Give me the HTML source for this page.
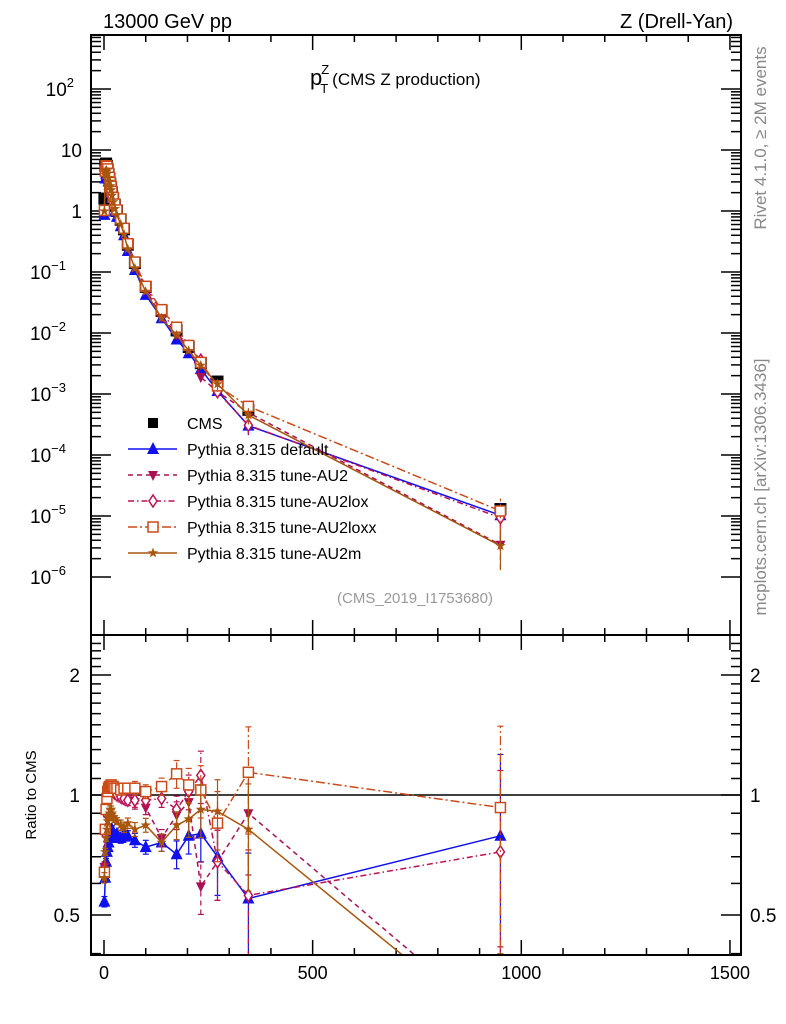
<!DOCTYPE html>
<html><head><meta charset="utf-8"><style>
html,body{margin:0;padding:0;background:#fff;width:786px;height:1024px;overflow:hidden;}
svg{display:block;font-family:"Liberation Sans",sans-serif;}
</style></head><body>
<svg id="c" width="786" height="1024" viewBox="0 0 786 1024" xmlns="http://www.w3.org/2000/svg">
<defs>
<clipPath id="mainClip"><rect x="91" y="35" width="650" height="600"/></clipPath>
<clipPath id="ratioClip"><rect x="91" y="635" width="650" height="320"/></clipPath>
</defs>
<rect x="0" y="0" width="786" height="1024" fill="#fff"/>
<text x="103" y="28" font-size="20">13000 GeV pp</text>
<text x="733" y="28" font-size="20" text-anchor="end">Z (Drell-Yan)</text>
<text x="310" y="85" font-size="17"><tspan font-size="22">p</tspan><tspan dx="-1" dy="-11" font-size="13">Z</tspan><tspan dx="-9" dy="19" font-size="13">T</tspan><tspan dx="4" dy="-8">(CMS Z production)</tspan></text>
<text transform="translate(766,138) rotate(-90)" font-size="17" fill="#888" text-anchor="middle">Rivet 4.1.0, ≥ 2M events</text>
<text transform="translate(766,487) rotate(-90)" font-size="17" fill="#888" text-anchor="middle">mcplots.cern.ch [arXiv:1306.3436]</text>
<text x="493" y="603" font-size="15" fill="#999" text-anchor="end">(CMS_2019_I1753680)</text>
<text transform="translate(36,795) rotate(-90)" font-size="15" text-anchor="middle">Ratio to CMS</text>
<g id="axes"></g>
<g id="mainPlot" clip-path="url(#mainClip)"></g>
<g id="ratioPlot" clip-path="url(#ratioClip)"></g>
<g id="legend"></g>
<rect x="91" y="35" width="650" height="600" fill="none" stroke="#000" stroke-width="2"/>
<rect x="91" y="635" width="650" height="320" fill="none" stroke="#000" stroke-width="2"/>
</svg>
<script>
const xVals = [1,3,5,7,9,11,13,15,17,19,22,26,31,40,48,57,74,100,138,174,203,232,272,346,950];
const cmsVals = [1.6,5.5,6.0,5.5,4.8,4.0,3.4,2.8,2.4,2.0,1.6,1.25,1.0,0.72,0.5,0.28,0.14,0.057,0.023,0.011,0.0059,0.0032,0.0016,0.00055,0.000013];
const ratioDefault = [0.54,0.62,0.68,0.72,0.74,0.76,0.78,0.80,0.82,0.82,0.80,0.78,0.80,0.78,0.80,0.79,0.77,0.74,0.76,0.71,0.79,0.80,0.70,0.55,0.79];
const ratioAU2 = [0.66,0.80,0.90,0.95,1.00,1.02,1.03,1.04,1.04,1.03,1.02,1.02,1.01,1.00,0.98,0.97,0.96,0.93,0.78,0.89,0.96,0.59,0.68,0.90,0.26];
const ratioAU2lox = [0.65,0.80,0.90,0.96,1.00,1.02,1.03,1.04,1.04,1.03,1.02,1.01,1.00,0.99,0.98,0.97,0.97,0.97,0.98,0.92,1.02,1.12,0.68,0.56,0.72];
const ratioAU2loxx = [0.64,0.82,0.92,0.98,1.02,1.04,1.05,1.05,1.06,1.05,1.05,1.04,1.04,1.03,1.04,1.04,1.04,1.02,1.05,1.13,1.06,1.03,0.85,1.14,0.93];
const ratioAU2m = [0.62,0.72,0.78,0.82,0.86,0.88,0.90,0.92,0.92,0.90,0.88,0.87,0.86,0.84,0.83,0.85,0.82,0.84,0.76,0.84,0.87,0.92,0.91,0.82,0.25];
const relErr = [0.03,0.02,0.02,0.02,0.02,0.02,0.02,0.02,0.02,0.02,0.02,0.02,0.02,0.03,0.03,0.03,0.04,0.04,0.05,0.08,0.1,0.15,0.2,0.3,0.6];
const xTicks = [0,500,1000,1500];
const mainDecades = [-6,-5,-4,-3,-2,-1,0,1,2];
const ratioTicks = [0.5,1,2];

const NS="http://www.w3.org/2000/svg";
const sx = v => 104 + v*0.4173;
const sy = v => 211 - 61*Math.log10(v);
const ry = r => 795 - 398.6*Math.log10(r);
function mk(tag, attrs, parent){const e=document.createElementNS(NS,tag);for(const k in attrs)e.setAttribute(k,attrs[k]);parent.appendChild(e);return e;}
const axes=document.getElementById('axes'), mainG=document.getElementById('mainPlot'), ratioG=document.getElementById('ratioPlot'), legG=document.getElementById('legend');

for(let v=0; v<=1500; v+=100){
  const major = v%500===0, X=sx(v), L=major?15:7;
  [[35,1],[635,-1],[635,1],[955,-1]].forEach(([y0,d])=>{
    const t=mk('line',{x1:X,x2:X,y1:y0,y2:y0+d*L,stroke:'#000','stroke-width':1.5},axes);
    
    
  });
}
xTicks.forEach(v=>{
  const t=mk('text',{x:sx(v),y:979,'font-size':18,'text-anchor':'middle'},axes);
  t.textContent=v;
  
  
});
mainDecades.forEach(d=>{
  for(let m=1;m<10;m++){
    const Y=sy(m*Math.pow(10,d));
    if(Y<35||Y>635) continue;
    const L=m===1?20:10;
    const a=mk('line',{x1:91,x2:91+L,y1:Y,y2:Y,stroke:'#000','stroke-width':1.5},axes);
    
    
    const b=mk('line',{x1:741,x2:741-L,y1:Y,y2:Y,stroke:'#000','stroke-width':1.5},axes);
    
    
  }
  const t=mk('text',{x:82,y:sy(Math.pow(10,d))+7,'font-size':19,'text-anchor':'end'},axes);
  
  
  if(d===0) t.textContent='1'; else if(d===1) t.textContent='10';
  else { t.textContent='10'; const s=mk('tspan',{dy:-9,'font-size':13},t); s.textContent=String(d).replace('-','−'); t.setAttribute('x',82-(d<0?16:8)); }
});
for(let r=0.4;r<=2.5;r+=0.1){
  const rr=Math.round(r*10)/10, Y=ry(rr);
  if(Y<635||Y>955) continue;
  const major=[0.5,1,2].includes(rr), L=major?20:10;
  const a=mk('line',{x1:91,x2:91+L,y1:Y,y2:Y,stroke:'#000','stroke-width':1.5},axes);
  
  
  const b=mk('line',{x1:741,x2:741-L,y1:Y,y2:Y,stroke:'#000','stroke-width':1.5},axes);
  
  
}
ratioTicks.forEach(r=>{
  const a=mk('text',{x:80,y:ry(r)+7,'font-size':19,'text-anchor':'end'},axes); a.textContent=r;
  
  
  const b=mk('text',{x:750,y:ry(r)+7,'font-size':19},axes); b.textContent=r;
  
  
});
const ref=mk('line',{x1:91,x2:741,y1:ry(1),y2:ry(1),stroke:'#000','stroke-width':1.5},ratioG);



function marker(shape,x,y,col,parent,sz){
  sz=sz||6; let e;
  if(shape==='square') e=mk('rect',{x:x-sz,y:y-sz,width:2*sz,height:2*sz,fill:col},parent);
  else if(shape==='osquare') e=mk('rect',{x:x-sz+1,y:y-sz+1,width:2*sz-2,height:2*sz-2,fill:'#fff',stroke:col,'stroke-width':1.5},parent);
  else if(shape==='up') e=mk('polygon',{points:`${x},${y-sz-1} ${x-sz},${y+sz-1} ${x+sz},${y+sz-1}`,fill:col},parent);
  else if(shape==='down') e=mk('polygon',{points:`${x},${y+sz} ${x-sz+1},${y-sz+2} ${x+sz-1},${y-sz+2}`,fill:col},parent);
  else if(shape==='diamond') e=mk('polygon',{points:`${x},${y-sz} ${x-4},${y} ${x},${y+sz} ${x+4},${y}`,fill:'#fff',stroke:col,'stroke-width':1.5},parent);
  else { let p=[]; for(let i=0;i<10;i++){const a=-Math.PI/2+i*Math.PI/5, r=i%2?2.2:5.5; p.push((x+r*Math.cos(a)).toFixed(1)+','+(y+r*Math.sin(a)).toFixed(1));} e=mk('polygon',{points:p.join(' '),fill:col},parent); }
  return e;
}
const series=[
 {name:'default',label:'Pythia 8.315 default',ratio:ratioDefault,col:'#1010ee',dash:'',shape:'up'},
 {name:'tune-au2',label:'Pythia 8.315 tune-AU2',ratio:ratioAU2,col:'#aa1155',dash:'5,4',shape:'down'},
 {name:'tune-au2lox',label:'Pythia 8.315 tune-AU2lox',ratio:ratioAU2lox,col:'#bb1155',dash:'6,3,1.5,3',shape:'diamond'},
 {name:'tune-au2loxx',label:'Pythia 8.315 tune-AU2loxx',ratio:ratioAU2loxx,col:'#cc4a1a',dash:'9,3,2,3',shape:'osquare'},
 {name:'tune-au2m',label:'Pythia 8.315 tune-AU2m',ratio:ratioAU2m,col:'#a8560f',dash:'',shape:'star'}
];
xVals.forEach((x,i)=>{
  const m=marker('square',sx(x),sy(cmsVals[i]),'#000',mainG,6);
  
  
});
series.forEach(s=>{
  const mv=xVals.map((x,i)=>cmsVals[i]*s.ratio[i]);
  const pl=mk('polyline',{points:xVals.map((x,i)=>sx(x)+','+sy(mv[i])).join(' '),fill:'none',stroke:s.col,'stroke-width':1.5,'stroke-dasharray':s.dash},mainG);
  
  
  const rl=mk('polyline',{points:xVals.map((x,i)=>sx(x)+','+ry(s.ratio[i])).join(' '),fill:'none',stroke:s.col,'stroke-width':1.5,'stroke-dasharray':s.dash},ratioG);
  
  
  xVals.forEach((x,i)=>{
    const X=sx(x), e=relErr[i];
    const lo=Math.max(mv[i]*(1-e),1e-9), hi=mv[i]*(1+e);
    const eb=mk('line',{x1:X,x2:X,y1:sy(lo),y2:sy(hi),stroke:s.col,'stroke-width':1.2,'stroke-dasharray':s.dash},mainG);
    
    
    const m=marker(s.shape,X,sy(mv[i]),s.col,mainG);
    
    
    const rlo=Math.max(s.ratio[i]*(1-e),0.01), rhi=s.ratio[i]*(1+e);
    const rb=mk('line',{x1:X,x2:X,y1:ry(rlo),y2:ry(rhi),stroke:s.col,'stroke-width':1.2,'stroke-dasharray':s.dash},ratioG);
    
    
    [rlo,rhi].forEach(v=>{const c=mk('line',{x1:X-3,x2:X+3,y1:ry(v),y2:ry(v),stroke:s.col,'stroke-width':1.2},ratioG);
      
      });
    const rm=marker(s.shape,X,ry(s.ratio[i]),s.col,ratioG);
    
    
  });
});
const legY=[423,449,475,501,527,553];
const cmsLeg=marker('square',153,legY[0],'#000',legG,5);


const ct=mk('text',{x:187,y:legY[0]+6,'font-size':16},legG); ct.textContent='CMS';


series.forEach((s,k)=>{
  const y=legY[k+1];
  const l=mk('line',{x1:128,x2:177,y1:y,y2:y,stroke:s.col,'stroke-width':1.5,'stroke-dasharray':s.dash},legG);
  
  
  const m=marker(s.shape,153,y,s.col,legG);
  
  
  const t=mk('text',{x:187,y:y+6,'font-size':16},legG); t.textContent=s.label;
  
  
});
</script>
</body></html>
